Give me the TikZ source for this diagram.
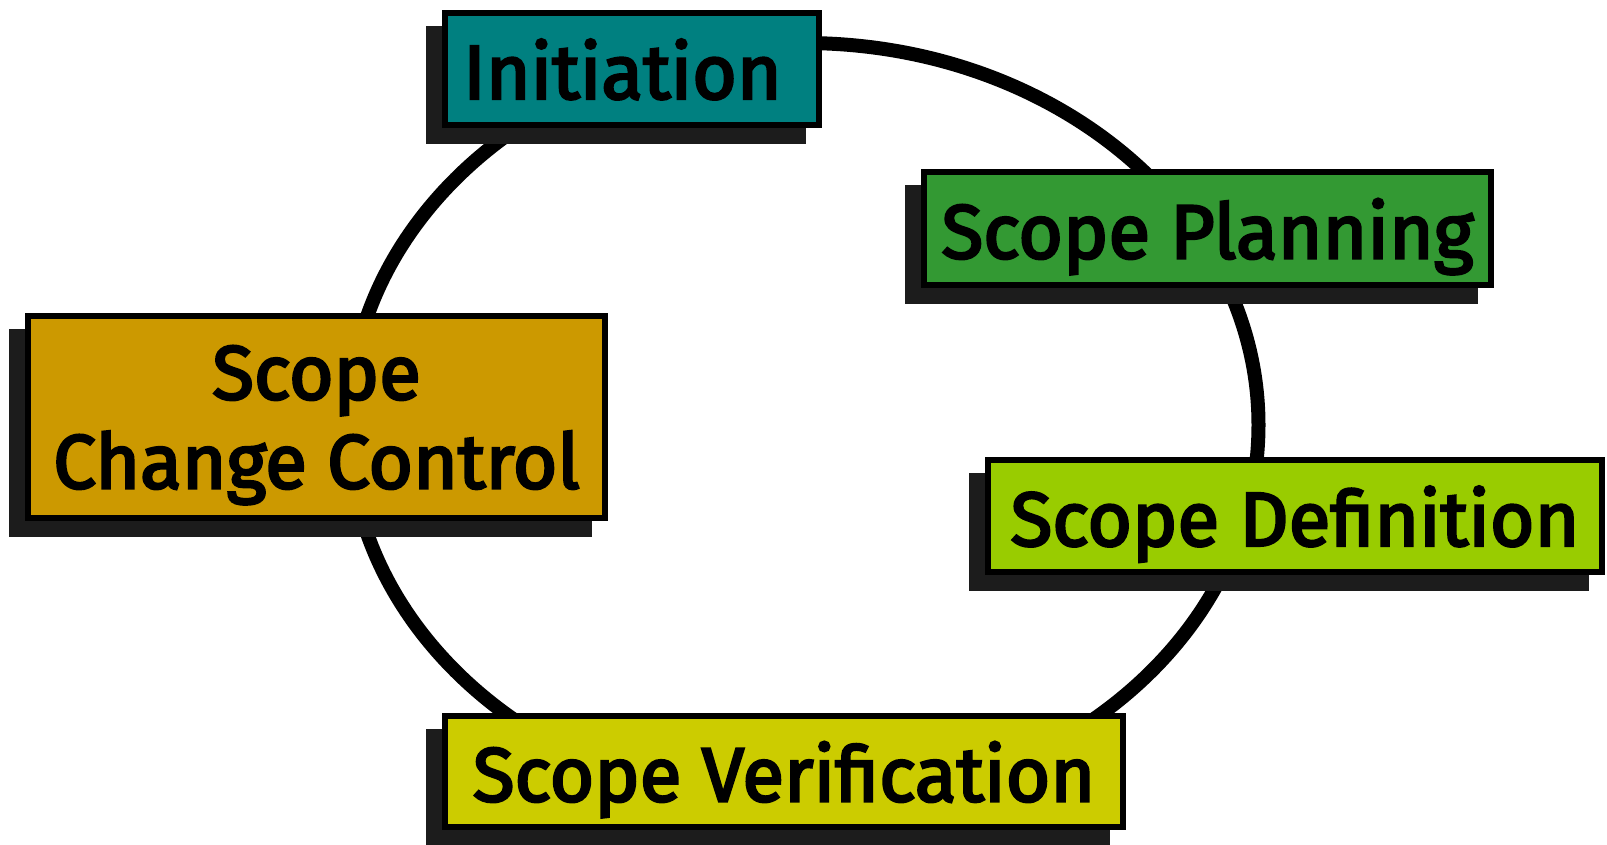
\documentclass[tikz,border=0pt]{standalone}
\usepackage{fontspec}
\setmainfont{Fira Sans}
\newfontfamily\phasefont{Fira Sans}[FakeBold=3.2]
\usetikzlibrary{shadows}
\definecolor{cInit}{HTML}{008080}
\definecolor{cPlan}{HTML}{339933}
\definecolor{cDef}{HTML}{99CC00}
\definecolor{cCtrl}{HTML}{CC9900}
\definecolor{cVer}{HTML}{CCCC00}
\definecolor{shadowgray}{HTML}{1C1C1C}
\begin{document}
\begin{tikzpicture}[x=1pt,y=-1pt,
  phasebox/.style={draw=black, line width=6pt, inner sep=0pt, align=center,
    font=\phasefont\fontsize{76.5}{89}\selectfont, text=black, text depth=0pt,
    drop shadow={shadow xshift=-16pt, shadow yshift=-16pt, fill=shadowgray, draw=shadowgray, opacity=1}},
  ring/.style={draw=black, line width=14pt}]
\useasboundingbox (0,0) rectangle (1607,845);
\coordinate (ctr) at (803.5,425);
\draw[ring] (ctr) ellipse [x radius=455pt, y radius=382pt];
\node[phasebox, fill=cInit, minimum width=374pt, minimum height=112pt] (init) at (632,69) {Initiation\hspace*{19pt}};
\node[phasebox, fill=cPlan, minimum width=567pt, minimum height=113pt] (plan) at (1207.5,228.5) {Scope Planning};
\node[phasebox, fill=cDef, minimum width=614pt, minimum height=112pt] (def) at (1295,516) {Scope Definition};
\node[phasebox, fill=cCtrl, minimum width=577pt, minimum height=202pt] (ctrl) at (316.5,417) {Scope\\Change Control};
\node[phasebox, fill=cVer, minimum width=678pt, minimum height=111pt] (ver) at (784,771.5) {Scope Verification};
\end{tikzpicture}
\end{document}
